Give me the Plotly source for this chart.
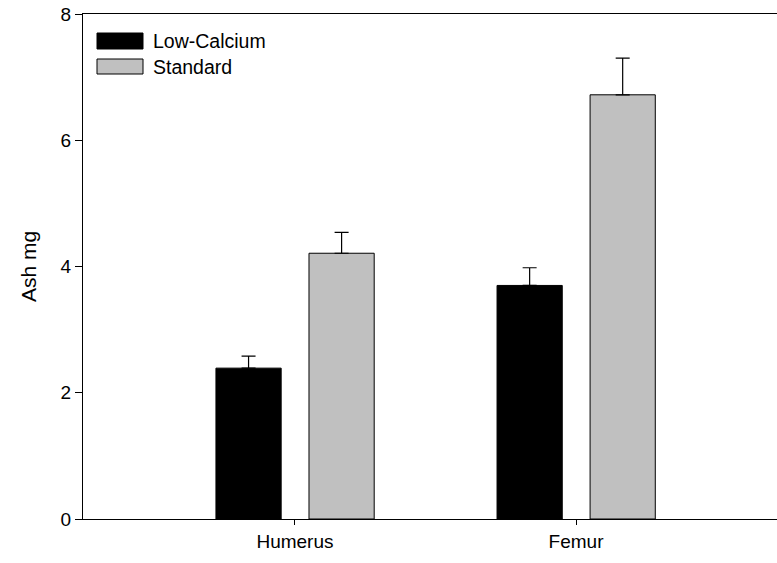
import plotly.graph_objects as go

categories = ["Humerus", "Femur"]
series_names = ["Low-Calcium", "Standard"]
low_calcium = [2.39, 3.70]
low_calcium_err = [0.19, 0.28]
standard = [4.21, 6.72]
standard_err = [0.33, 0.58]
y_ticks = [0, 2, 4, 6, 8]

colors = ["#000000", "#c0c0c0"]
FONT = "Liberation Sans, Arial, Helvetica, sans-serif"

fig = go.Figure()
for name, vals, errs, col, off in [
    (series_names[0], low_calcium, low_calcium_err, colors[0], -0.281),
    (series_names[1], standard, standard_err, colors[1], 0.050),
]:
    fig.add_trace(go.Bar(
        x=categories, y=vals, name=name,
        marker=dict(color=col, line=dict(color="#000000", width=1)),
        width=0.232, offset=off,
        error_y=dict(type="data", symmetric=False, array=errs,
                     arrayminus=[0] * len(errs), color="#000000",
                     thickness=1.2, width=7),
        showlegend=False,
    ))

# manual legend (swatches + labels)
leg_items = [(series_names[0], colors[0], 33, 49), (series_names[1], colors[1], 59, 74)]
for name, col, y0, y1 in leg_items:
    fig.add_shape(type="rect", xref="paper", yref="paper",
                  x0=(97 - 83) / 694, x1=(143 - 83) / 694,
                  y0=1 - (y0 - 14) / 505, y1=1 - (y1 - 14) / 505,
                  fillcolor=col, line=dict(color="#000000", width=1))
    fig.add_annotation(xref="paper", yref="paper", x=(151 - 83) / 694,
                       y=1 - ((y0 + y1) / 2 - 14) / 505, text=name,
                       showarrow=False, xanchor="left", yanchor="middle",
                       font=dict(family=FONT, size=19.5, color="#000000"))

fig.update_layout(
    width=777, height=563,
    margin=dict(l=83, r=0, t=14, b=44),
    plot_bgcolor="#ffffff", paper_bgcolor="#ffffff",
    barmode="overlay",
    font=dict(family=FONT, size=18, color="#000000"),
    xaxis=dict(type="category", range=[-0.754, 1.715], showgrid=False,
               showline=True, linecolor="#000000", linewidth=1, mirror=True,
               ticks="outside", ticklen=5, tickcolor="#000000", tickwidth=1,
               zeroline=False, tickfont=dict(size=19)),
    yaxis=dict(range=[0, 8], tickvals=y_ticks, showgrid=False,
               showline=True, linecolor="#000000", linewidth=1,
               ticks="outside", ticklen=7, tickcolor="#000000", tickwidth=1,
               zeroline=False, tickfont=dict(size=19),
               title=dict(text="Ash mg", font=dict(size=21), standoff=18)),
)

fig.write_html("out.html")
